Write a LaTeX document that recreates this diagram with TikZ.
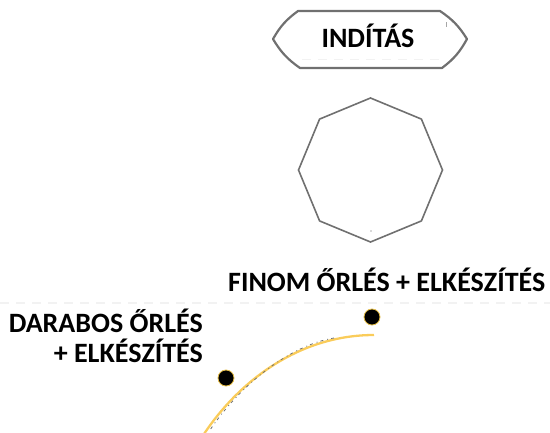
\documentclass[tikz,border=0pt]{standalone}
\usepackage{fontspec}
\setmainfont{Carlito}
\usetikzlibrary{shapes.geometric}
\definecolor{edgegray}{RGB}{112,112,112}
\definecolor{arcyellow}{RGB}{250,204,90}
\definecolor{dotrim}{RGB}{230,190,70}
\tikzset{
  x=1pt, y=-1pt,
  label text/.style={font=\bfseries\fontsize{28}{31}\selectfont, inner sep=0pt, text=black},
  dotmark/.style={circle, fill=black, draw=dotrim, line width=0.8pt, minimum size=16pt, inner sep=0pt},
  faint/.style={draw=black!5, line width=1.4pt, dash pattern=on 9pt off 7pt},
}
\begin{document}
\begin{tikzpicture}
\useasboundingbox (0,0) rectangle (550,432);

% start terminal
\draw[edgegray, line width=2.2pt, line join=round]
  (298,11) -- (440,11) to[bend left=12] (467,39) to[bend left=12] (442,68)
  -- (300,68) to[bend left=12] (273,39) to[bend left=12] cycle;
\draw[faint, line width=1pt] (302,59) -- (440,59);
\draw[black!35, line width=0.6pt] (446,22) -- (446,27);
\node[label text, anchor=base] (start) at (368,47) {INDÍTÁS};

% octagon
\node[regular polygon, regular polygon sides=8, shape border rotate=22.5,
      minimum size=144pt, inner sep=0pt, draw=edgegray, line width=1.6pt]
      (oct) at (370.5,170) {};
\fill[black!30] (371,231) circle (0.9pt);

% labels
\draw[faint] (0,303) -- (550,303);
\node[label text, anchor=base west] (fine) at (228,291) {FINOM ŐRLÉS + ELKÉSZÍTÉS};
\node[label text, anchor=base east] (coarse1) at (203,332) {DARABOS ŐRLÉS};
\node[label text, anchor=base east] (coarse2) at (203,362) {+ ELKÉSZÍTÉS};

% points and curve
\node[dotmark] (pfine) at (372,317) {};
\node[dotmark] (pcoarse) at (226,378) {};
\coordinate (arcA) at (374,335);
\coordinate (arcB) at (204,434);
\draw[arcyellow, line width=2.3pt]
  (arcA) .. controls (300,335) and (240,380) .. (arcB);
\draw[black!55, line width=0.8pt, dash pattern=on 3pt off 3pt on 1pt off 4pt]
  (334,338) .. controls (290,345) and (240,385) .. (210,430);
\end{tikzpicture}
\end{document}
